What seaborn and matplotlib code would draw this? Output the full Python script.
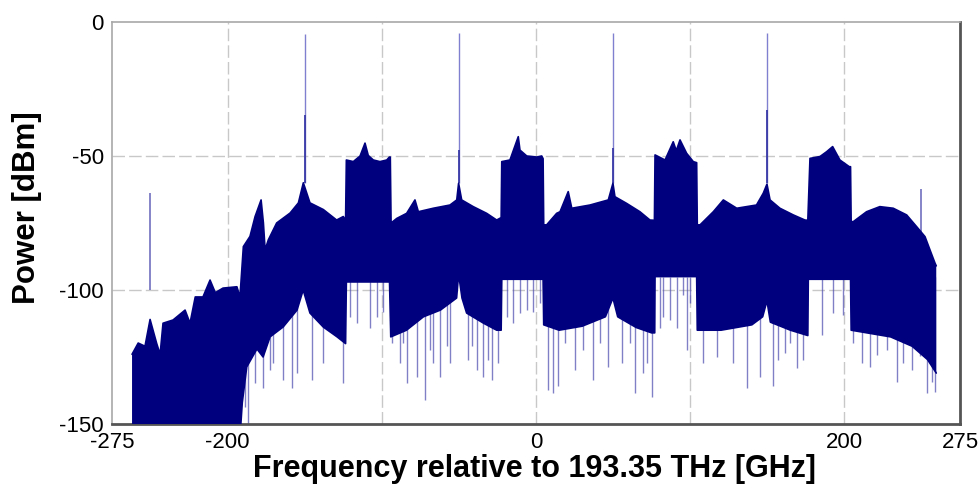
import numpy as np
import pandas as pd
import matplotlib
matplotlib.use("Agg")
import matplotlib.pyplot as plt
import seaborn as sns

# ===== data (GHz, dBm) =====
# upper edge of the dense trace
upper_freq = [-262.0, -258.0, -253.6, -250.3, -246.0, -243.8, -241.9, -235.4, -227.6, -224.4,
              -221.0, -216.0, -211.4, -208.0, -203.0, -194.0, -192.0, -189.8, -185.5, -182.2,
              -178.3, -176.8, -175.7, -173.6, -168.2, -159.5, -154.1, -150.9, -146.6, -137.9,
              -129.3, -125.0, -123.5, -123.0, -118.5, -114.1, -110.9, -108.8, -105.5, -101.2,
              -96.8, -95.1, -94.5, -94.0, -90.3, -83.9, -78.5, -76.3, -66.6, -55.8,
              -51.4, -50.2, -48.2, -40.7, -32.0, -25.5, -22.6, -22.2, -16.9, -11.5,
              -10.4, -6.0, 0.5, 3.7, 4.6, 5.0, 6.9, 13.4, 15.6, 20.9,
              23.2, 35.0, 46.9, 49.9, 51.2, 58.8, 67.4, 73.9, 76.8, 77.2,
              83.7, 89.0, 91.0, 93.4, 97.7, 102.0, 104.2, 104.6, 106.4, 115.0,
              121.5, 130.2, 143.0, 147.4, 149.8, 151.8, 158.2, 166.9, 174.4, 176.3,
              177.7, 184.2, 188.5, 192.4, 197.1, 203.2, 204.0, 204.4, 205.8, 214.4,
              223.0, 231.7, 240.4, 246.9, 252.3, 255.5, 258.8, 259.6]
upper_dbm = [-124.0, -119.8, -121.0, -111.0, -120.0, -124.0, -112.4, -111.2, -107.5, -112.4,
             -102.6, -102.6, -96.3, -101.0, -99.3, -98.8, -102.6, -83.8, -80.0, -72.6,
             -66.4, -75.0, -85.0, -81.3, -75.0, -71.3, -67.5, -60.0, -67.5, -70.0,
             -73.9, -72.6, -74.0, -51.5, -52.1, -50.0, -45.2, -49.8, -51.5, -52.1,
             -51.5, -50.4, -50.4, -75.0, -73.3, -71.4, -66.4, -70.8, -69.5, -68.3,
             -66.4, -60.2, -66.4, -68.9, -71.4, -73.9, -73.0, -52.1, -51.5, -42.8,
             -47.8, -50.0, -50.4, -50.0, -51.0, -75.7, -75.7, -71.4, -70.8, -63.3,
             -69.5, -68.3, -66.4, -60.2, -65.2, -67.7, -70.8, -73.9, -74.0, -49.6,
             -51.5, -44.7, -48.0, -44.0, -49.0, -52.1, -52.5, -75.7, -75.7, -70.8,
             -66.4, -69.5, -68.3, -63.9, -60.5, -66.4, -69.5, -72.0, -73.9, -74.0,
             -50.9, -50.2, -48.4, -46.5, -51.5, -54.0, -54.0, -74.5, -74.5, -70.8,
             -68.9, -69.5, -72.0, -76.4, -80.1, -85.0, -90.0, -91.0]

# lower edge of the solid part of the trace
lower_freq = [-262.0, -192.0, -190.5, -187.6, -181.0, -177.0, -172.5, -164.0, -155.0, -151.0,
              -146.6, -138.0, -129.0, -123.5, -123.0, -95.0, -94.2, -84.0, -73.0, -62.0,
              -51.5, -50.2, -48.0, -45.0, -34.0, -25.5, -22.6, -22.2, 4.6, 5.0,
              15.0, 30.0, 45.0, 49.9, 53.0, 65.0, 75.0, 77.0, 77.2, 104.2,
              104.6, 120.0, 140.0, 147.0, 149.8, 152.0, 165.0, 176.3, 176.6, 204.0,
              204.4, 230.0, 244.0, 254.0, 259.6]
lower_dbm = [-155.0, -155.0, -142.0, -128.7, -122.0, -125.0, -117.5, -113.8, -107.5, -100.0,
             -108.6, -113.8, -117.5, -120.0, -97.0, -97.0, -117.5, -115.0, -110.0, -107.5,
             -103.0, -94.0, -103.0, -108.6, -112.4, -115.0, -115.0, -96.0, -96.0, -113.0,
             -115.0, -113.5, -110.0, -103.0, -110.0, -114.0, -116.0, -116.0, -95.0, -95.0,
             -115.0, -115.0, -113.0, -110.0, -104.0, -112.0, -115.0, -117.0, -96.0, -96.0,
             -115.0, -117.5, -121.0, -126.0, -131.0]

# single dips below the solid part
dip_freq = [-188.7, -186.6, -182.2, -176.8, -172.5, -170.4, -163.9, -158.4, -155.2, -145.5,
            -137.9, -125.0, -120.6, -116.3, -107.7, -103.3, -99.0, -93.6, -88.2, -86.0,
            -83.9, -77.4, -72.0, -68.7, -66.6, -62.3, -57.9, -55.8, -43.9, -41.7,
            -38.5, -34.2, -30.9, -28.7, -24.4, -19.0, -14.7, -10.4, -6.0, -1.8,
            2.6, 8.0, 11.2, 14.5, 18.8, 25.3, 30.7, 37.2, 41.5, 46.9,
            55.6, 61.0, 64.2, 69.6, 71.8, 75.0, 80.4, 82.6, 86.9, 91.2,
            95.5, 97.7, 99.9, 108.5, 117.2, 128.0, 136.6, 145.3, 153.9, 157.1,
            161.5, 164.7, 169.0, 173.4, 185.3, 192.8, 199.3, 205.8, 211.2, 216.6,
            220.9, 227.4, 233.9, 238.2, 243.6, 249.0, 253.4, 256.6, 258.8]
dip_dbm = [-143.5, -151.0, -134.8, -136.6, -130.0, -127.4, -133.6, -136.6, -131.0, -133.6,
           -127.4, -134.8, -110.0, -112.4, -114.3, -110.0, -108.1, -119.8, -127.4, -119.8,
           -134.8, -132.3, -141.0, -122.4, -127.4, -132.3, -121.0, -127.4, -126.0, -121.0,
           -129.9, -132.3, -126.0, -133.6, -127.4, -110.0, -112.4, -108.6, -107.5, -108.1,
           -104.9, -137.3, -138.6, -136.0, -119.8, -129.9, -122.4, -133.6, -119.8, -128.6,
           -127.4, -119.8, -138.6, -131.0, -127.4, -139.8, -114.3, -110.0, -111.2, -114.3,
           -102.0, -122.4, -105.0, -127.4, -125.0, -127.4, -136.6, -132.3, -136.0, -126.0,
           -123.6, -119.8, -129.2, -126.0, -116.8, -108.6, -109.3, -119.8, -127.4, -128.6,
           -124.4, -122.4, -134.2, -127.4, -130.0, -124.5, -138.6, -134.5, -137.9]

# carrier tones and the two weak side tones
carrier_freq = [-150, -50, 50, 150]
carrier_top = [-4.5, -4.0, -4.2, -4.2]
carrier_mid = [-34.7, -47.8, -47.0, -33.0]
side_freq = [-250.3, 249.7]
side_top = [-63.8, -62.4]

navy = "#00007f"
light = "#4b4bb0"

sns.set_style("white")
plt.rcParams["font.family"] = ["Liberation Sans", "DejaVu Sans"]
plt.rcParams["axes.unicode_minus"] = False

up = pd.DataFrame({"freq": upper_freq, "dbm": upper_dbm})
lo = pd.DataFrame({"freq": lower_freq, "dbm": lower_dbm})

fig = plt.figure(figsize=(9.79, 4.93), dpi=100)
ax = fig.add_axes([0.1144, 0.140, 0.8662, 0.8154])

# dips sit behind the solid fill, only the part below it shows
ax.vlines(dip_freq, dip_dbm, -95, color=light, lw=1.0, alpha=0.7, zorder=2)
ax.vlines(side_freq, side_top, -100, color=light, lw=1.2, alpha=0.8, zorder=2)
ax.vlines(carrier_freq, carrier_top, -60, color="#8080d0", lw=1.0, zorder=2)
ax.vlines(carrier_freq, carrier_mid, -60, color="#3a3aa8", lw=1.3, zorder=2)

# solid body of the trace: upper edge forward, lower edge back
poly_x = list(up["freq"]) + list(lo["freq"][::-1])
poly_y = list(up["dbm"]) + list(lo["dbm"][::-1])
ax.fill(poly_x, poly_y, color=navy, lw=0, zorder=3)
sns.lineplot(data=up, x="freq", y="dbm", ax=ax, color=navy, lw=1.2, estimator=None, sort=False, zorder=4)
sns.lineplot(data=lo, x="freq", y="dbm", ax=ax, color=navy, lw=1.2, estimator=None, sort=False, zorder=4)

# ===== axes =====
ax.set_xlim(-275, 275)
ax.set_ylim(-150, 0)
ax.set_xticks([-275, -200, 0, 200, 275])
ax.set_yticks([-150, -100, -50, 0])
ax.tick_params(axis="both", which="both", length=0, labelsize=16, colors="black")
ax.tick_params(axis="x", pad=6)
ax.tick_params(axis="y", pad=6)

grid_kw = dict(color="#c8c8c8", lw=1.0, linestyle=(0, (9, 3)))
for gx in [-200, -100, 0, 100, 200]:
    ax.axvline(gx, zorder=1, **grid_kw)
for gy in [-50, -100]:
    ax.axhline(gy, zorder=1, **grid_kw)

ax.set_xlabel("Frequency relative to 193.35 THz [GHz]", fontsize=22, fontweight="bold", color="black")
ax.set_ylabel("Power [dBm]", fontsize=22.5, fontweight="bold", color="black")
ax.xaxis.set_label_coords(0.4988, -0.074)
ax.yaxis.set_label_coords(-0.082, 0.537)

for side in ["left", "top"]:
    ax.spines[side].set_color("#a8a8a8")
    ax.spines[side].set_linewidth(1.2)
for side in ["bottom", "right"]:
    ax.spines[side].set_color("#555555")
    ax.spines[side].set_linewidth(2.0)

fig.savefig("out.png", dpi=100)
